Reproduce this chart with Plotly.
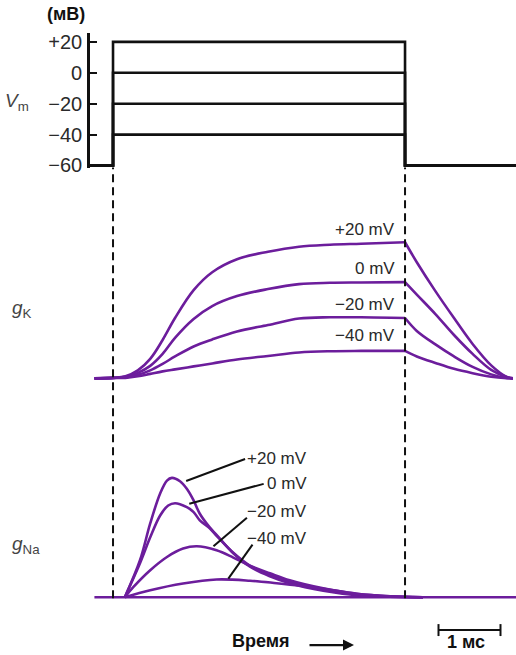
import plotly.graph_objects as go

# ---------------- data ----------------
# time (ms); voltage step from T_ON to T_OFF
T_ON = 0.0
T_OFF = 4.71
T_START = -0.40
T_END = 6.5

V_REST = -60
V_STEPS = [20, 0, -20, -40]
V_TICKS = [20, 0, -20, -40, -60]
V_TICKTEXT = ["+20", "0", "−20", "−40", "−60"]
STEP_LABELS = ["+20 mV", "0 mV", "−20 mV", "−40 mV"]

# potassium conductance (mS/cm²)
TK = [-0.3, 0, 0.2, 0.4, 0.6, 0.8, 1.0, 1.3, 1.6, 2.0, 2.5, 3.0, 3.5, 4.0, 4.71,
      4.9, 5.2, 5.5, 5.8, 6.1, 6.35, 6.45]
GK_P20 = [0, 0.07, 0.29, 1.14, 2.79, 5.5, 8.64, 12.64, 15.21, 17.07, 18.14, 18.86, 19.14, 19.29, 19.5,
          16.64, 12.5, 8.64, 4.93, 1.86, 0.21, 0]
GK_0 = [0, 0.07, 0.21, 0.79, 1.79, 3.5, 5.79, 8.5, 10.36, 11.79, 12.79, 13.5, 13.69, 13.74, 13.79,
        12.0, 9.21, 6.21, 3.5, 1.21, 0.21, 0]
GK_M20 = [0, 0.07, 0.14, 0.5, 1.14, 2.07, 3.14, 4.57, 5.57, 6.71, 7.64, 8.57, 8.75, 8.75, 8.64,
          6.79, 4.86, 3.14, 1.64, 0.57, 0.07, 0]
GK_M40 = [0, 0.07, 0.07, 0.29, 0.64, 1.0, 1.29, 1.71, 2.14, 2.71, 3.21, 3.71, 3.89, 3.93, 3.93,
          3.14, 2.21, 1.36, 0.74, 0.24, 0.03, 0]

# sodium conductance (mS/cm²)
NA_BASE_T = [-0.3, 6.5]
NA_BASE_G = [0, 0]
NA_T_P20 = [0.19, 0.435, 0.6, 0.76, 0.87, 0.95, 1.08, 1.19, 1.3, 1.4,
            1.56, 1.67, 1.94, 2.21, 2.53, 2.85, 3.39, 3.93, 4.47, 5.0]
GNA_P20 = [0, 5.29, 10.57, 14.86, 16.71, 17.1, 16.61, 15.53, 13.86, 11.96,
           10.0, 8.93, 6.29, 4.36, 3.0, 2.0, 0.93, 0.29, 0.07, 0]
NA_T_0 = [0.19, 0.435, 0.6, 0.76, 0.89, 1.0, 1.19, 1.3, 1.4, 1.56,
          1.67, 1.94, 2.21, 2.53, 2.85, 3.39, 3.93, 4.47, 5.0]
GNA_0 = [0, 4.86, 8.57, 11.71, 13.14, 13.47, 12.9, 12.19, 11.0, 9.86,
         8.79, 6.36, 4.5, 3.21, 2.21, 1.07, 0.36, 0.1, 0]
NA_T_M20 = [0.19, 0.33, 0.6, 0.87, 1.13, 1.35, 1.67, 1.94, 2.21, 2.53, 2.85, 3.39, 3.93, 4.47, 5.0]
GNA_M20 = [0, 1.47, 3.86, 5.76, 6.96, 7.29, 6.71, 5.67, 4.5, 3.43, 2.43, 1.29, 0.5, 0.14, 0]
NA_T_M40 = [0.19, 0.6, 1.13, 1.67, 2.21, 2.64, 3.02, 3.39, 3.93, 4.47, 5.0]
GNA_M40 = [0, 1.0, 1.96, 2.53, 2.36, 2.0, 1.64, 1.21, 0.5, 0.14, 0]

SCALE_BAR_START = 5.25   # ms
SCALE_BAR_LEN = 1.0      # ms

# ---------------- styling ----------------
W = 516
H_REF = 655      # layout designed in these pixel rows
H_FIG = 664      # figure height (picture is squeezed back to 655)
PURPLE = "#6c1d9c"
BLACK = "#111111"
FONT = "Liberation Sans, Arial, sans-serif"
LBL = "#2a2a2a"


def py(p):  # target pixel row -> paper y
    return 1 - p / H_REF


fig = go.Figure()

# Vm step protocol
for v in V_STEPS:
    fig.add_trace(go.Scatter(
        x=[T_START, T_ON, T_ON, T_OFF, T_OFF, T_END],
        y=[V_REST, V_REST, v, v, V_REST, V_REST],
        mode="lines", line=dict(color=BLACK, width=2.6), yaxis="y", hoverinfo="skip"))

# gK curves (rise/plateau and decay drawn as two smooth pieces)
k = TK.index(T_OFF)
for g in [GK_P20, GK_0, GK_M20, GK_M40]:
    fig.add_trace(go.Scatter(x=TK[:k + 1], y=g[:k + 1], mode="lines", yaxis="y2",
                             line=dict(color=PURPLE, width=2.6, shape="spline", smoothing=1),
                             hoverinfo="skip"))
    fig.add_trace(go.Scatter(x=TK[k:], y=g[k:], mode="lines", yaxis="y2",
                             line=dict(color=PURPLE, width=2.6, shape="spline", smoothing=1),
                             hoverinfo="skip"))

# gNa curves
fig.add_trace(go.Scatter(x=NA_BASE_T, y=NA_BASE_G, mode="lines", yaxis="y3",
                         line=dict(color=PURPLE, width=2.6), hoverinfo="skip"))
for t, g in [(NA_T_P20, GNA_P20), (NA_T_0, GNA_0), (NA_T_M20, GNA_M20), (NA_T_M40, GNA_M40)]:
    fig.add_trace(go.Scatter(x=t, y=g, mode="lines", yaxis="y3",
                             line=dict(color=PURPLE, width=2.6, shape="spline", smoothing=1),
                             hoverinfo="skip"))

shapes = []
# dashed markers of step on/off
for tx in [T_ON, T_OFF]:
    shapes.append(dict(type="line", xref="x", yref="paper", x0=tx, x1=tx,
                       y0=py(598), y1=py(166),
                       line=dict(color=BLACK, width=2, dash="8px,5px")))

# leader lines for gNa labels
LEADERS = [(1.18, 16.65, 2.13, 19.8), (1.23, 13.38, 2.43, 16.24),
           (1.62, 7.29, 2.16, 11.39), (1.86, 2.67, 2.25, 7.53)]
for x0, y0, x1, y1 in LEADERS:
    shapes.append(dict(type="line", xref="x", yref="y3", x0=x0, y0=y0, x1=x1, y1=y1,
                       line=dict(color=BLACK, width=2)))

# 1 ms scale bar
sb0, sb1 = SCALE_BAR_START, SCALE_BAR_START + SCALE_BAR_LEN
shapes.append(dict(type="line", xref="x", yref="paper", x0=sb0, x1=sb1, y0=py(630), y1=py(630),
                   line=dict(color=BLACK, width=2)))
for sx in [sb0, sb1]:
    shapes.append(dict(type="line", xref="x", yref="paper", x0=sx, x1=sx, y0=py(624), y1=py(636),
                       line=dict(color=BLACK, width=2)))

ann = []


def add_text(text, x, y, xref="paper", yref="paper", size=18, color=BLACK, xanchor="center"):
    ann.append(dict(text=text, xref=xref, yref=yref, x=x, y=y, xanchor=xanchor, yanchor="middle",
                    showarrow=False, font=dict(family=FONT, size=size, color=color)))


add_text("<b>(мВ)</b>", 66 / W, py(12), size=18)
add_text("<i>V</i><sub>m</sub>", 3 / W, py(100), size=19, color="#444", xanchor="left")
add_text("<i>g</i><sub>K</sub>", 10 / W, py(308), size=19, color="#444", xanchor="left")
add_text("<i>g</i><sub>Na</sub>", 10 / W, py(545), size=19, color="#444", xanchor="left")

GK_LABEL_Y = [21.3, 15.8, 10.6, 6.2]
for lab, yy in zip(STEP_LABELS, GK_LABEL_Y):
    add_text(lab, 4.58, yy, xref="x", yref="y2", size=17, color=LBL, xanchor="right")
NA_LABEL_Y = [19.86, 16.29, 12.29, 8.43]
for lab, yy in zip(STEP_LABELS, NA_LABEL_Y):
    add_text(lab, 3.16, yy, xref="x", yref="y3", size=17, color=LBL, xanchor="right")

add_text("<b>Время</b>", 261 / W, py(641), size=18)
ann.append(dict(text="", xref="paper", yref="paper", x=354 / W, y=py(645), ax=-46, ay=0,
                showarrow=True, arrowhead=2, arrowsize=1, arrowwidth=2.2, arrowcolor=BLACK))
add_text("<b>1 мс</b>", sb0 + SCALE_BAR_LEN / 2 - 0.05, py(642), xref="x", size=18)

fig.update_layout(
    width=W, height=H_FIG, autosize=False,
    margin=dict(l=0, r=0, t=0, b=0),
    paper_bgcolor="white", plot_bgcolor="rgba(0,0,0,0)",
    showlegend=False,
    xaxis=dict(range=[-1.823, 6.5], domain=[0, 1], visible=False, fixedrange=True),
    yaxis=dict(range=[-61.5, 25.5], domain=[py(166.3), py(31.5)], anchor="free",
               position=88 / W, showline=True, linewidth=2.6, linecolor=BLACK,
               ticks="inside", ticklen=7, tickwidth=2.4, tickcolor=BLACK,
               ticklabelstandoff=1,
               tickvals=V_TICKS, ticktext=V_TICKTEXT, showgrid=False, zeroline=False,
               tickfont=dict(family=FONT, size=20, color=LBL), fixedrange=True),
    yaxis2=dict(range=[-0.6, 23], domain=[py(381.7), py(216.5)], anchor="x",
                visible=False, fixedrange=True),
    yaxis3=dict(range=[-0.6, 21.5], domain=[py(601.2), py(446.5)], anchor="x",
                visible=False, fixedrange=True),
    shapes=shapes, annotations=ann,
)

POST = ("var d=document.getElementById('{plot_id}');"
        "d.style.position='fixed';d.style.top='0px';d.style.left='0px';"
        "document.body.style.margin='0px';document.body.style.overflow='hidden';"
        "document.documentElement.style.overflow='hidden';")
fig.write_html("out.html", config={"displayModeBar": False}, post_script=POST)
